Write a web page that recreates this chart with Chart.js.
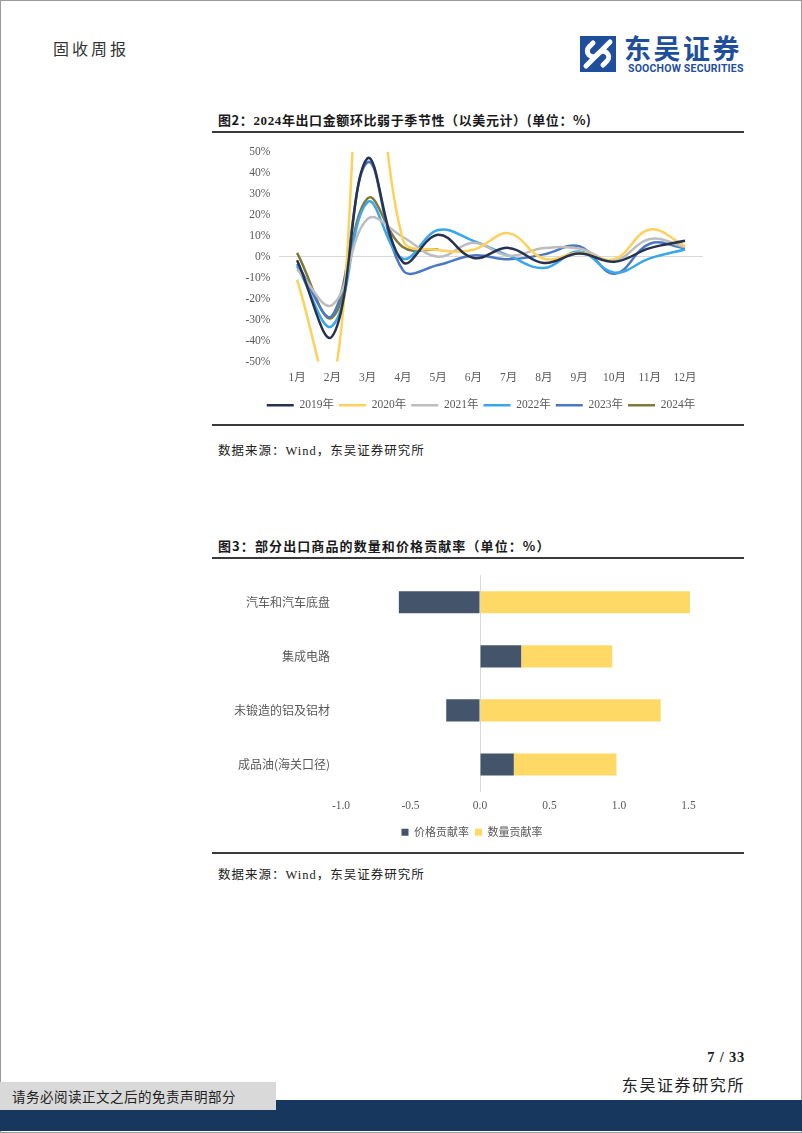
<!DOCTYPE html>
<html lang="zh-CN">
<head>
<meta charset="utf-8">
<title>固收周报</title>
<script src="https://cdn.jsdelivr.net/npm/chart.js@4/dist/chart.umd.min.js"></script>
<style>
    html, body { margin: 0; padding: 0; background: #fff; }
    body { width: 802px; height: 1133px; position: relative; overflow: hidden;
           font-family: "Noto Sans CJK SC", sans-serif; color: #222; }
    .frame { position: absolute; left: 0; top: 0; width: 800px; height: 1131px; border: 1px solid #9a9a9a; }
    .abs { position: absolute; white-space: nowrap; }
    .serif { font-family: "Liberation Serif", "Noto Sans CJK SC", serif; }
    .rule { position: absolute; left: 212px; width: 532px; height: 2px; background: #3a3a3a; }
    .fig-title { font-size: 13px; font-weight: bold; color: #1a1a1a; letter-spacing: 0.6px; }
    .source { font-size: 12.5px; color: #222; letter-spacing: 1px; }
    canvas { position: absolute; }
</style>
</head>
<body>
<div class="frame"></div>

<!-- header -->
<div class="abs" style="left:53px; top:36px; font-size:16px; color:#333; letter-spacing:3px;">固收周报</div>
<svg class="abs" style="left:580px; top:36px;" width="36" height="36" viewBox="0 0 36 36">
    <rect x="0" y="0" width="36" height="36" fill="#1f4f9c"/>
    <path d="M6 30 L19 17 A5.5 5.5 0 0 1 27 25 L23 29" stroke="#fff" stroke-width="5" fill="none" stroke-linecap="round"/>
    <path d="M30 6 L17 19 A5.5 5.5 0 0 1 9 11 L13 7" stroke="#fff" stroke-width="5" fill="none" stroke-linecap="round"/>
</svg>
<div class="abs" style="left:624px; top:28px; font-size:27px; line-height:40px; font-weight:bold; color:#1f4f9c; letter-spacing:2.5px;">东吴证券</div>
<div class="abs" style="left:628px; top:63px; font-size:10.5px; line-height:12px; font-weight:bold; color:#1f4f9c; font-family:Roboto, sans-serif; letter-spacing:0.2px;">SOOCHOW SECURITIES</div>

<!-- figure 2 -->
<div class="abs fig-title" style="left:218px; top:110px;">图2：<span class="serif">2024</span>年出口金额环比弱于季节性（以美元计）(单位：%)</div>
<div class="rule" style="top:131px;"></div>
<canvas id="exportMomChart" width="532" height="289" style="left:212px; top:136px;"></canvas>
<div class="rule" style="top:424px;"></div>
<div class="abs source" style="left:218px; top:440px;">数据来源：<span class="serif">Wind</span>，东吴证券研究所</div>

<!-- figure 3 -->
<div class="abs fig-title" style="left:218px; top:536px; letter-spacing:1.1px;">图3：部分出口商品的数量和价格贡献率（单位：%）</div>
<div class="rule" style="top:557px;"></div>
<canvas id="contributionChart" width="520" height="295" style="left:212px; top:557px;"></canvas>
<div class="rule" style="top:852px;"></div>
<div class="abs source" style="left:218px; top:864px;">数据来源：<span class="serif">Wind</span>，东吴证券研究所</div>

<!-- footer -->
<div class="abs serif" style="right:57px; top:1049px; font-size:14.5px; font-weight:bold; color:#222; letter-spacing:0.8px;">7 / 33</div>
<div class="abs" style="right:57px; top:1072px; font-size:16px; color:#222; letter-spacing:1.6px;">东吴证券研究所</div>
<div class="abs" style="left:0; top:1100px; width:802px; height:31px; background:#17375e;"></div>
<div class="abs" style="left:0; top:1082px; width:276px; height:28px; background:#d9d9d9;"></div>
<div class="abs" style="left:12px; top:1086px; font-size:13.5px; color:#222; letter-spacing:0.5px;">请务必阅读正文之后的免责声明部分</div>

<script>
//
// ================= DATA =================
//
const months = ["1月", "2月", "3月", "4月", "5月", "6月", "7月", "8月", "9月", "10月", "11月", "12月"];

const mom2019 = [-1.7, -37.9, 47.0, -2.6, 10.5, -0.6, 4.2, -3.0, 1.5, -2.4, 4.1, 7.6];
const mom2020 = [-11, -62, 128, 8.2, 3.2, 3.3, 11.2, -1.0, 1.9, -1.1, 13.0, 5.1];
const mom2021 = [-6, -23, 18, 9.4, 0.0, 6.6, 0.5, 4.1, 3.9, -1.8, 8.4, 4.6];
const mom2022 = [-4.5, -33, 26, -0.9, 12.7, 7.5, 0.5, -5.4, 2.5, -7.6, -0.8, 3.4];
const mom2023 = [-3.5, -28, 45, -6.4, -4.0, 0.6, -1.2, 1.1, 5.0, -8.1, 6.2, 4.0];
const mom2024 = [1.8, -29, 27.8, 4.6, 3.4];

const momTicks = [-50, -40, -30, -20, -10, 0, 10, 20, 30, 40, 50];

const goods = ["汽车和汽车底盘", "集成电路", "未锻造的铝及铝材", "成品油(海关口径)"];
const priceContribution = [-0.584, 0.296, -0.243, 0.243];
const volumeContribution = [1.51, 0.655, 1.30, 0.739];

const contributionTicks = [-1.0, -0.5, 0.0, 0.5, 1.0, 1.5];

//
// ================= COMMON =================
//
const SERIF = "'Liberation Serif', 'Noto Sans CJK SC', serif";
const CJK = "'Noto Sans CJK SC', sans-serif";
const TICK_COLOR = "#595959";
const ZERO_LINE = "#d9d9d9";

Chart.defaults.animation = false;
Chart.defaults.devicePixelRatio = 1;

function lineSet(label, data, color) {
    return {
        label: label,
        data: data,
        borderColor: color,
        backgroundColor: color,
        borderWidth: 2.5,
        pointRadius: 0,
        pointStyle: "line",
        tension: 0.4
    };
}

function zeroOnly(ctx) {
    return ctx.tick && ctx.tick.value === 0 ? ZERO_LINE : "rgba(0,0,0,0)";
}

// empty axis on the right, only used to reserve space so the legend stays centred
function spacerAxis(width) {
    return {
        position: "right",
        grid: { display: false },
        border: { display: false },
        ticks: { display: false },
        afterFit: scale => { scale.width = width; }
    };
}

//
// ================= LINE CHART =================
//
new Chart(document.getElementById("exportMomChart"), {
    type: "line",
    data: {
        labels: months,
        datasets: [
            lineSet("2019年", mom2019, "#27324f"),
            lineSet("2020年", mom2020, "#fdd15c"),
            lineSet("2021年", mom2021, "#bdbdbd"),
            lineSet("2022年", mom2022, "#3aa6ec"),
            lineSet("2023年", mom2023, "#4a78c4"),
            lineSet("2024年", mom2024, "#7f7a38")
        ]
    },
    options: {
        responsive: false,
        layout: { padding: { top: 9, right: 0, bottom: 4, left: 6 } },
        plugins: {
            tooltip: { enabled: false },
            legend: {
                position: "bottom",
                labels: {
                    usePointStyle: true,
                    pointStyleWidth: 27,
                    padding: 5,
                    color: TICK_COLOR,
                    font: { family: SERIF, size: 11.5 }
                }
            }
        },
        scales: {
            x: {
                offset: true,
                grid: { display: false },
                border: { display: false },
                ticks: { color: TICK_COLOR, font: { family: SERIF, size: 11.5 }, padding: 2, maxRotation: 0 },
                afterFit: scale => { scale.height = 33; }
            },
            y: {
                min: -50,
                max: 50,
                afterBuildTicks: scale => { scale.ticks = momTicks.map(v => ({ value: v })); },
                grid: { drawTicks: false, color: zeroOnly },
                border: { display: false },
                ticks: {
                    color: TICK_COLOR,
                    font: { family: SERIF, size: 11.5 },
                    padding: 9,
                    callback: v => v + "%"
                },
                afterFit: scale => { scale.width = 61.4; }
            },
            yRight: spacerAxis(41.3)
        }
    }
});

//
// ================= STACKED BAR CHART =================
//
new Chart(document.getElementById("contributionChart"), {
    type: "bar",
    data: {
        labels: goods,
        datasets: [
            {
                label: "价格贡献率",
                data: priceContribution,
                backgroundColor: "#44546a",
                barPercentage: 0.41,
                categoryPercentage: 1
            },
            {
                label: "数量贡献率",
                data: volumeContribution,
                backgroundColor: "#ffd966",
                barPercentage: 0.41,
                categoryPercentage: 1
            }
        ]
    },
    options: {
        responsive: false,
        indexAxis: "y",
        layout: { padding: { top: 7.5, right: 0, bottom: 4.3, left: 0 } },
        plugins: {
            tooltip: { enabled: false },
            legend: {
                position: "bottom",
                labels: {
                    boxWidth: 7,
                    boxHeight: 7,
                    padding: 6,
                    color: TICK_COLOR,
                    font: { family: CJK, size: 11 }
                }
            }
        },
        scales: {
            x: {
                stacked: true,
                min: -1,
                max: 1.55,
                afterBuildTicks: scale => { scale.ticks = contributionTicks.map(v => ({ value: v })); },
                grid: { drawTicks: false, color: zeroOnly },
                border: { display: false },
                ticks: {
                    color: TICK_COLOR,
                    font: { family: SERIF, size: 11.5 },
                    padding: 8,
                    callback: v => Number(v).toFixed(1)
                },
                afterFit: scale => { scale.height = 29.2; }
            },
            y: {
                stacked: true,
                grid: { display: false, drawTicks: false },
                border: { display: false },
                ticks: { color: TICK_COLOR, font: { family: CJK, size: 12 }, padding: 11 },
                afterFit: scale => { scale.width = 129; }
            },
            yRight: spacerAxis(36.5)
        }
    }
});
</script>
</body>
</html>
